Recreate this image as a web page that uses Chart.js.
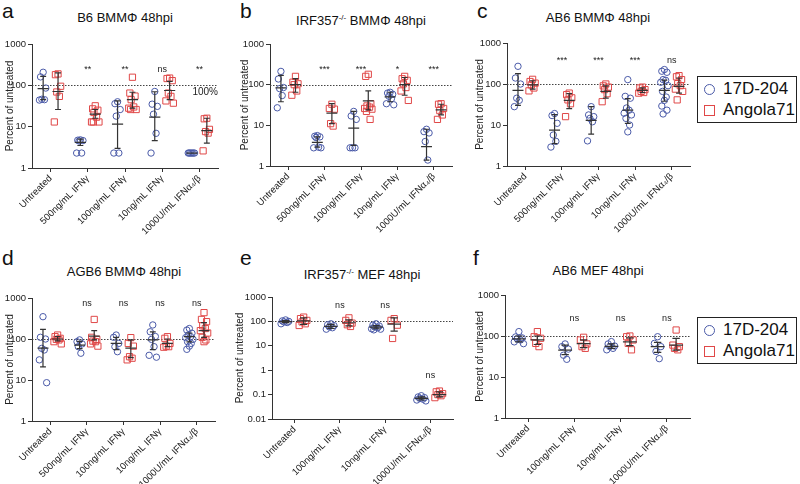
<!DOCTYPE html>
<html>
<head>
<meta charset="utf-8">
<script src="https://cdn.jsdelivr.net/npm/chart.js@4.4.0/dist/chart.umd.min.js"></script>
<style>
  body { margin: 0; width: 800px; height: 484px; background: #fff; position: relative; overflow: hidden;
         font-family: "Liberation Sans", Arial, sans-serif; color: #111; }
  canvas { position: absolute; }
  .lt { position: absolute; font-size: 21px; line-height: 21px; }
  .tt { position: absolute; font-size: 13px; line-height: 16px; transform: translateX(-50%); white-space: nowrap; }
  .tt sup { font-size: 8px; }
  .lg { position: absolute; left: 697px; width: 98px; height: 44px; border: 1.5px solid #222; padding-top: 1px; }
  .it { height: 21px; line-height: 21px; font-size: 17px; padding-left: 6px; white-space: nowrap; }
  .cir, .sq { display: inline-block; width: 9px; height: 9px; margin-right: 8px; vertical-align: -1px; }
  .cir { border: 1.5px solid #4a5aa8; border-radius: 50%; }
  .sq { border: 1.5px solid #e04848; }
</style>
</head>
<body>
<div class="lt" style="left:2px;top:0px">a</div>
<div class="lt" style="left:240px;top:0px">b</div>
<div class="lt" style="left:477px;top:0px">c</div>
<div class="lt" style="left:2px;top:247px">d</div>
<div class="lt" style="left:240px;top:247px">e</div>
<div class="lt" style="left:473px;top:247px">f</div>

<div class="tt" style="left:125px;top:10px">B6 BMMΦ 48hpi</div>
<div class="tt" style="left:361px;top:10px">IRF357<sup>-/-</sup> BMMΦ 48hpi</div>
<div class="tt" style="left:598px;top:10px">AB6 BMMΦ 48hpi</div>
<div class="tt" style="left:124px;top:264px">AGB6 BMMΦ 48hpi</div>
<div class="tt" style="left:362px;top:264px">IRF357<sup>-/-</sup> MEF 48hpi</div>
<div class="tt" style="left:598px;top:263px">AB6 MEF 48hpi</div>

<div class="lg" style="top:76px">
  <div class="it"><span class="cir"></span>17D-204</div>
  <div class="it"><span class="sq"></span>Angola71</div>
</div>
<div class="lg" style="top:317px">
  <div class="it"><span class="cir"></span>17D-204</div>
  <div class="it"><span class="sq"></span>Angola71</div>
</div>

<canvas id="pa"></canvas>
<canvas id="pb"></canvas>
<canvas id="pc"></canvas>
<canvas id="pd"></canvas>
<canvas id="pe"></canvas>
<canvas id="pf"></canvas>

<script>
// Categories
const catsBM = ["Untreated", "500ng/mL IFNγ", "100ng/mL IFNγ", "10ng/mL IFNγ", "1000U/mL IFNα₄/β"];
const catsMEF = ["Untreated", "100ng/mL IFNγ", "10ng/mL IFNγ", "1000U/mL IFNα₄/β"];
const ticks3 = [1, 10, 100, 1000];
const ticks5 = [0.01, 0.1, 1, 10, 100, 1000];

// Panel a - B6 BMM
const aBlue = [[207, 160, 86, 46, 45, 44], [4.8, 4.7, 4.6, 4.5, 2.3, 2.3], [40, 36, 26, 18, 2.3, 2.3], [71, 35, 31, 20, 6.9, 2.3], [2.3, 2.3, 2.3, 2.3, 2.3, 2.3]];
const aRed = [[189, 181, 95, 69, 54, 13], [32, 27, 25, 22, 17, 13, 13, 13], [157, 65, 55, 45, 30, 28, 26, 26], [150, 146, 130, 65, 54, 42, 37], [16, 15.5, 8.6, 7.6, 7, 2.6]];
const aBlueBar = [[83, 45, 165], [4.15, 3.5, 5], [11.5, 3, 42], [17, 4.6, 70], [2.3, 2.3, 2.3]]; // mean, low, high
const aRedBar = [[71, 26, 200], [20, 16, 26], [45, 28, 68], [75, 45, 125], [8, 4, 16]];
const aSig = ["", "**", "**", "ns", "**"];
const aSigAt = [0, 245, 245, 245, 245];

// Panel b - IRF357-/- BMM
const bBlue = [[212, 138, 85, 80, 54, 27], [5.6, 5.4, 5.2, 5, 2.9, 2.8, 2.8], [22, 17, 14, 2.8, 2.8, 2.8], [65, 62, 58, 52, 45, 34, 32], [8, 7, 6.5, 4, 1.4]];
const bRed = [[160, 115, 105, 100, 70, 55], [33, 26, 25, 11, 9.6], [180, 160, 34, 30, 28, 26, 25, 22, 14], [160, 140, 128, 105, 85, 70, 41], [34, 33, 26, 23, 18, 14]];
const bBlueBar = [[83, 38, 170], [3.8, 2.9, 5.2], [8.5, 3.2, 22], [50, 38, 65], [3, 1.4, 8]];
const bRedBar = [[100, 65, 140], [20, 11, 34], [40, 24, 70], [100, 55, 150], [24, 18, 33]];
const bSig = ["", "***", "***", "*", "***"];
const bSigAt = [0, 233, 233, 233, 233];

// Panel c - AB6 BMM
const cBlue = [[270, 140, 100, 45, 40, 28], [19, 17, 11, 5.7, 4, 2.9], [28, 17.6, 16, 14.5, 12, 4.1], [128, 50, 45, 26, 23, 19.4, 17.6, 14.5, 10, 6.8], [225, 205, 193, 128, 123, 110, 91, 66, 48, 40, 29, 23, 18.6]];
const cRed = [[130, 115, 105, 95, 80, 68], [60, 55, 46, 41, 33, 16], [100, 90, 84, 73, 58, 37], [84, 80, 73, 66, 62, 60], [160, 150, 128, 102, 91, 75, 66, 41]];
const cBlueBar = [[70, 30, 180], [7.5, 3.5, 18], [13, 6, 28], [23, 11, 44], [70, 38, 125]];
const cRedBar = [[95, 75, 120], [40, 25, 58], [66, 45, 90], [70, 62, 80], [88, 60, 140]];
const cSig = ["", "***", "***", "***", "ns"];
const cSigAt = [0, 365, 365, 365, 365];

// Panel d - AGB6 BMM
const dBlue = [[350, 110, 100, 59, 54, 31, 8.6], [95, 86, 76, 65, 45], [125, 110, 78, 65, 49], [220, 150, 115, 98, 65, 40, 36], [180, 165, 138, 125, 114, 108, 98, 86, 78, 67, 56]];
const dRed = [[125, 114, 104, 98, 95, 86, 76], [300, 110, 98, 89, 86, 76, 67], [108, 78, 67, 37, 34, 31], [114, 104, 78, 67, 65, 63], [440, 300, 265, 210, 180, 160, 140, 110, 95, 86]];
const dBlueBar = [[60, 21, 172], [71, 58, 88], [78, 55, 110], [95, 55, 150], [114, 85, 140]];
const dRedBar = [[100, 90, 115], [118, 95, 160], [60, 35, 95], [78, 65, 100], [160, 110, 250]];
const dSig = ["", "ns", "ns", "ns", "ns"];
const dSigAt = [0, 750, 750, 750, 750];

// Panel e - IRF357-/- MEF
const eBlue = [[115, 105, 100, 95, 90, 80], [80, 73, 67, 60, 55, 48], [80, 70, 65, 60, 55, 50, 48, 45], [0.09, 0.08, 0.075, 0.07, 0.065, 0.06, 0.055]];
const eRed = [[150, 130, 110, 95, 80, 68], [140, 110, 85, 73, 62], [130, 110, 70, 20], [0.14, 0.13, 0.11, 0.1, 0.09, 0.075]];
const eBlueBar = [[98, 88, 108], [63, 52, 75], [58, 50, 68], [0.07, 0.06, 0.08]];
const eRedBar = [[105, 75, 140], [88, 65, 115], [78, 40, 140], [0.1, 0.08, 0.13]];
const eSig = ["", "ns", "ns", "ns"];
const eSigAt = [0, 430, 430, 0.6];

// Panel f - AB6 MEF
const fBlue = [[128, 95, 90, 85, 80, 72, 65], [64, 55, 48, 34, 27], [73, 64, 57, 55, 50, 46], [96, 66, 55, 42, 28]];
const fRed = [[128, 96, 88, 66, 55], [93, 80, 64, 55, 50], [100, 96, 80, 66, 46], [140, 60, 55, 50, 46]];
const fBlueBar = [[85, 72, 100], [45, 35, 60], [56, 50, 64], [55, 40, 70]];
const fRedBar = [[80, 62, 100], [65, 52, 80], [72, 58, 90], [60, 45, 88]];
const fSig = ["", "ns", "ns", "ns"];
const fSigAt = [0, 260, 260, 260];

const BLUE = "#4a5aa8";
const RED = "#e04848";
const INK = "#222";
const jit = [0, -0.07, 0.07, -0.035, 0.035, -0.1, 0.1, -0.05, 0.05];

function points(groups, side) {
  const out = [];
  groups.forEach((vals, i) => vals.forEach((v, k) => out.push({ x: i + side + jit[k % jit.length], y: v })));
  return out;
}

// mean / error bars, significance and 100% line
function statsPlugin(blueBar, redBar, sig, sigAt, note) {
  return {
    id: "stats",
    beforeDatasetsDraw(chart) {
      const { ctx, chartArea, scales: { y } } = chart;
      const py = Math.round(y.getPixelForValue(100)) + 0.5;
      ctx.save();
      ctx.strokeStyle = "#444";
      ctx.lineWidth = 1;
      ctx.setLineDash([1.5, 1.5]);
      ctx.beginPath();
      ctx.moveTo(chartArea.left, py);
      ctx.lineTo(chartArea.right, py);
      ctx.stroke();
      ctx.restore();
    },
    afterDatasetsDraw(chart) {
      const { ctx, chartArea, scales: { x, y } } = chart;
      ctx.save();
      ctx.strokeStyle = "#333";
      ctx.lineWidth = 1.2;
      [[blueBar, -0.2], [redBar, 0.2]].forEach(([bars, side]) => {
        bars.forEach((b, i) => {
          const cx = x.getPixelForValue(i + side);
          const w = x.getPixelForValue(1) - x.getPixelForValue(0);
          const ym = y.getPixelForValue(b[0]), yl = y.getPixelForValue(b[1]), yh = y.getPixelForValue(b[2]);
          ctx.beginPath();
          ctx.moveTo(cx, yl); ctx.lineTo(cx, yh);
          ctx.moveTo(cx - w * 0.15, ym); ctx.lineTo(cx + w * 0.15, ym);
          ctx.moveTo(cx - w * 0.08, yl); ctx.lineTo(cx + w * 0.08, yl);
          ctx.moveTo(cx - w * 0.08, yh); ctx.lineTo(cx + w * 0.08, yh);
          ctx.stroke();
        });
      });
      ctx.fillStyle = INK;
      ctx.font = "9px 'Liberation Sans', Arial, sans-serif";
      ctx.textAlign = "center";
      ctx.textBaseline = "middle";
      sig.forEach((s, i) => {
        if (s) ctx.fillText(s, x.getPixelForValue(i), y.getPixelForValue(sigAt[i]));
      });
      if (note) {
        ctx.font = "10px 'Liberation Sans', Arial, sans-serif";
        ctx.textAlign = "right";
        ctx.fillText(note, chartArea.right, y.getPixelForValue(100) + 7);
      }
      ctx.restore();
    }
  };
}

function makePanel(id, box, cats, blue, red, blueBar, redBar, sig, sigAt, yTicks, note) {
  const cv = document.getElementById(id);
  cv.width = box.w; cv.height = box.h;
  cv.style.left = box.left + "px"; cv.style.top = box.top + "px";
  new Chart(cv, {
    type: "scatter",
    data: {
      datasets: [
        { label: "17D-204", data: points(blue, -0.2), pointStyle: "circle", pointRadius: 3.2,
          borderColor: BLUE, backgroundColor: "rgba(0,0,0,0)", borderWidth: 1 },
        { label: "Angola71", data: points(red, 0.2), pointStyle: "rect", pointRadius: 4.4,
          borderColor: RED, backgroundColor: "rgba(0,0,0,0)", borderWidth: 1 }
      ]
    },
    options: {
      responsive: false,
      animation: false,
      layout: { padding: { left: 0, top: box.pt, right: box.pr, bottom: 0 } },
      plugins: { legend: { display: false }, tooltip: { enabled: false } },
      scales: {
        x: {
          type: "linear", min: -0.5, max: cats.length - 0.5,
          afterBuildTicks: s => { s.ticks = cats.map((c, i) => ({ value: i })); },
          afterFit: s => { s.height = box.xh; },
          ticks: { callback: v => cats[v], autoSkip: false, minRotation: 45, maxRotation: 45,
                   font: { size: 9.5, family: "'Liberation Sans', Arial, sans-serif" }, color: INK, padding: 1 },
          grid: { drawOnChartArea: false, drawTicks: true, tickLength: 4, color: "#333" },
          border: { color: "#333", width: 1 }
        },
        y: {
          type: "logarithmic", min: yTicks[0], max: yTicks[yTicks.length - 1],
          afterBuildTicks: s => { s.ticks = yTicks.map(v => ({ value: v })); },
          afterFit: s => { s.width = box.yw; },
          ticks: { callback: v => String(v), font: { size: 9.5, family: "'Liberation Sans', Arial, sans-serif" },
                   color: INK, padding: 2 },
          title: { display: true, text: "Percent of untreated", color: INK, padding: { top: 4, bottom: 0 },
                   font: { size: 10, family: "'Liberation Sans', Arial, sans-serif" } },
          grid: { drawOnChartArea: false, drawTicks: true, tickLength: 4, color: "#333" },
          border: { color: "#333", width: 1 }
        }
      }
    },
    plugins: [statsPlugin(blueBar, redBar, sig, sigAt, note)]
  });
}

makePanel("pa", { left: 0, top: 0, w: 235, h: 240, yw: 32, pt: 44, pr: 17, xh: 72 }, catsBM, aBlue, aRed, aBlueBar, aRedBar, aSig, aSigAt, ticks3, "100%");
makePanel("pb", { left: 235, top: 0, w: 235, h: 240, yw: 35, pt: 44, pr: 18, xh: 74 }, catsBM, bBlue, bRed, bBlueBar, bRedBar, bSig, bSigAt, ticks3);
makePanel("pc", { left: 470, top: 0, w: 237, h: 240, yw: 37, pt: 43, pr: 17, xh: 74 }, catsBM, cBlue, cRed, cBlueBar, cRedBar, cSig, cSigAt, ticks3);
makePanel("pd", { left: 0, top: 244, w: 235, h: 240, yw: 32, pt: 54, pr: 20, xh: 63 }, catsBM, dBlue, dRed, dBlueBar, dRedBar, dSig, dSigAt, ticks3);
makePanel("pe", { left: 230, top: 244, w: 240, h: 240, yw: 42, pt: 53, pr: 17, xh: 65 }, catsMEF, eBlue, eRed, eBlueBar, eRedBar, eSig, eSigAt, ticks5);
makePanel("pf", { left: 470, top: 244, w: 237, h: 240, yw: 35, pt: 51, pr: 17, xh: 66 }, catsMEF, fBlue, fRed, fBlueBar, fRedBar, fSig, fSigAt, ticks3);
</script>
</body>
</html>
